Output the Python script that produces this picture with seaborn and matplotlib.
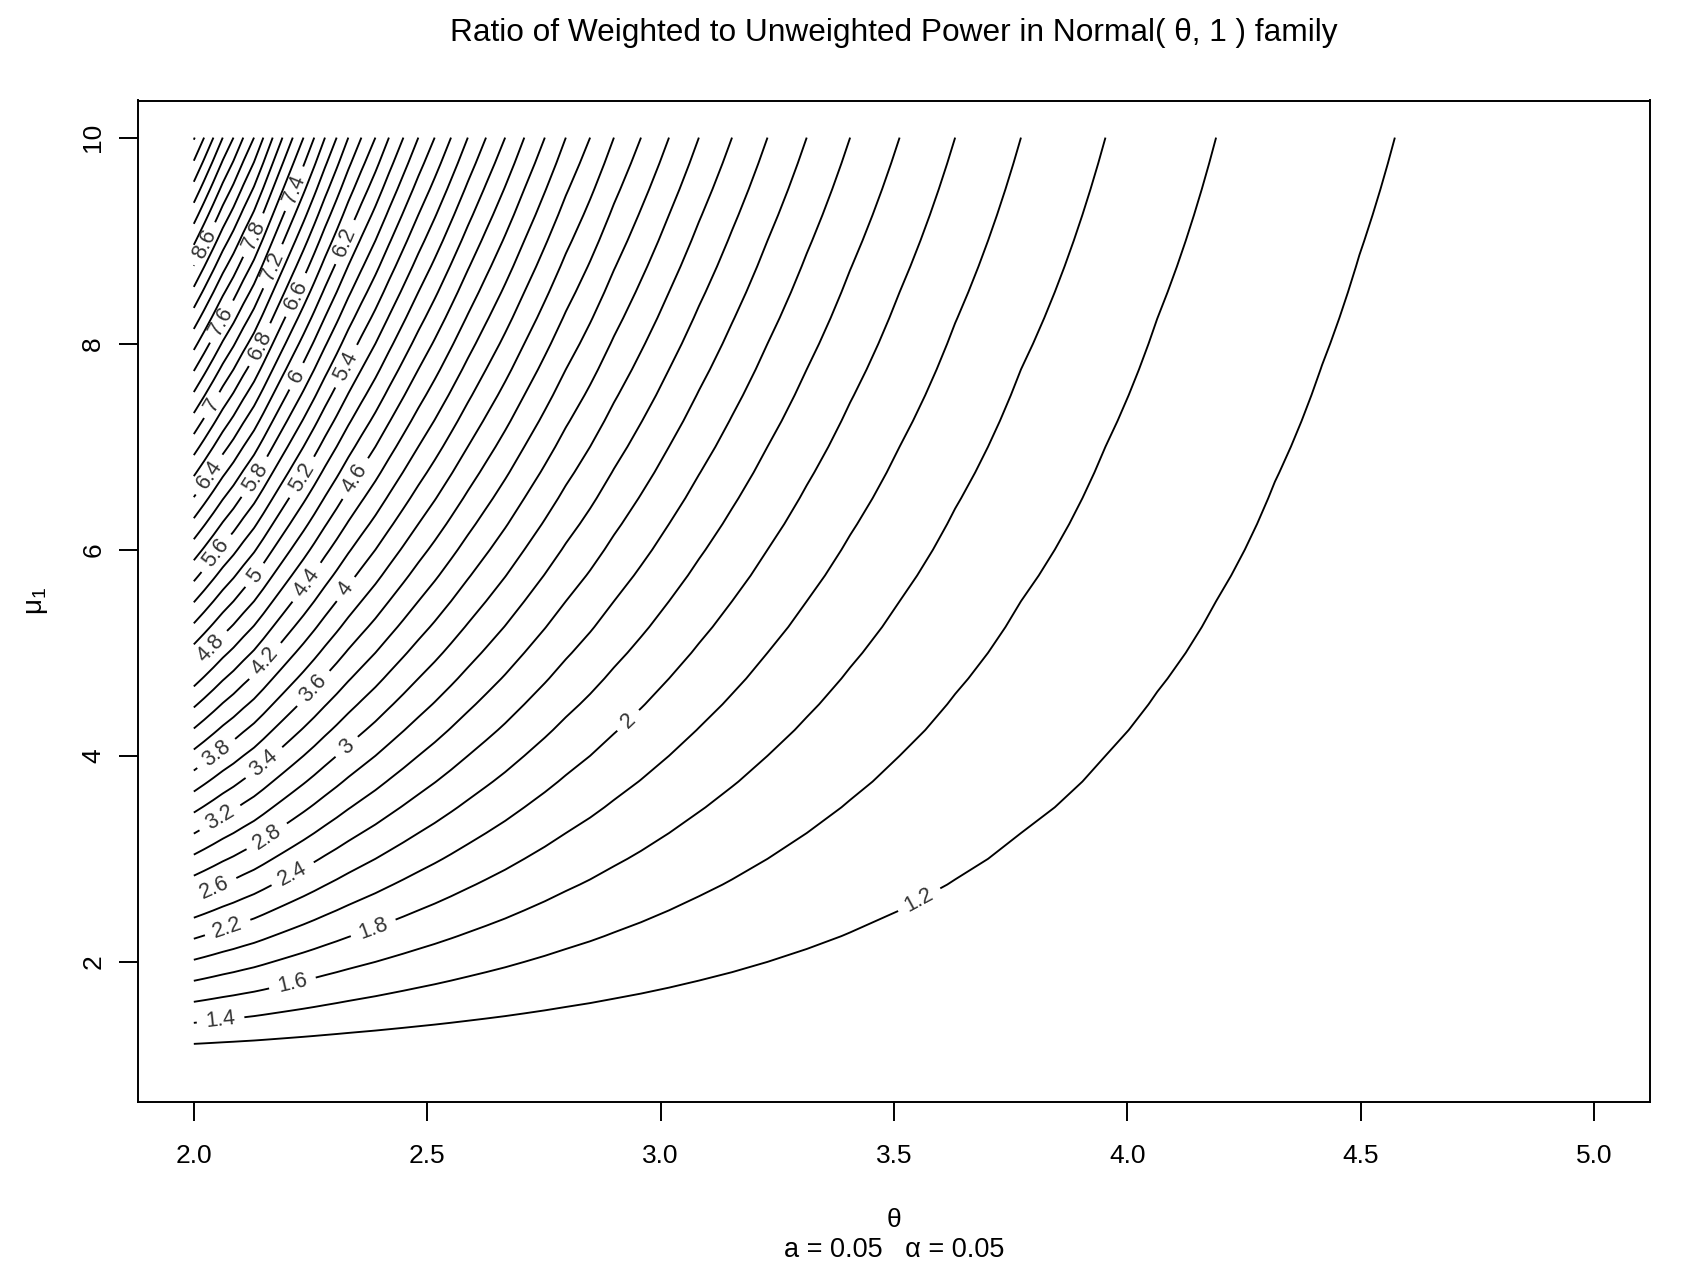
import numpy as np
import matplotlib
matplotlib.use("Agg")
import matplotlib.pyplot as plt
import seaborn as sns

# ---- data ----------------------------------------------------------------
# Ratio of weighted to unweighted power along the top edge (mu1 = 10):
# theta where each contour meets the top edge, plus a few extra readings
theta_top = [2.000, 2.002, 2.022, 2.042, 2.062, 2.085, 2.106, 2.129, 2.149,
             2.169, 2.190, 2.212, 2.235, 2.258, 2.281, 2.306, 2.331, 2.359,
             2.389, 2.418, 2.449, 2.481, 2.516, 2.551, 2.587, 2.626, 2.667,
             2.708, 2.752, 2.797, 2.849, 2.900, 2.958, 3.018, 3.082, 3.153,
             3.229, 3.313, 3.406, 3.512, 3.631, 3.772, 3.953, 4.064, 4.190,
             4.316, 4.417, 4.497, 4.573, 4.719, 4.870, 5.000]
ratio_top = [9.82, 9.8, 9.6, 9.4, 9.2, 9.0, 8.8, 8.6, 8.4,
             8.2, 8.0, 7.8, 7.6, 7.4, 7.2, 7.0, 6.8, 6.6,
             6.4, 6.2, 6.0, 5.8, 5.6, 5.4, 5.2, 5.0, 4.8,
             4.6, 4.4, 4.2, 4.0, 3.8, 3.6, 3.4, 3.2, 3.0,
             2.8, 2.6, 2.4, 2.2, 2.0, 1.8, 1.6, 1.497, 1.4,
             1.318, 1.265, 1.229, 1.2, 1.150, 1.111, 1.082]
# Along mu1 the contours are evenly spaced at any fixed theta: the ratio
# rises linearly in mu1 from 1 (mu1 = 1) to the top-edge value (mu1 = 10).
mu_bottom, mu_top = 1.0, 10.0
ratio_bottom = 1.0

contour_levels = [round(1.2 + 0.2 * i, 1) for i in range(44)]   # 1.2 ... 9.8

# labelled contours and where their labels sit (theta, mu1)
label_levels = [8.6, 7.8, 7.4, 7.2, 6.6, 6.2, 7.6, 6.8, 6.0, 5.4, 7.0,
                6.4, 5.8, 5.2, 4.6, 5.6, 5.0, 4.4, 4.0, 4.8, 4.2, 3.6,
                3.8, 3.4, 3.0, 3.2, 2.8, 2.6, 2.4, 2.2, 1.8, 1.6, 1.4,
                2.0, 1.2]
label_pos = [(2.032, 8.95), (2.129, 9.05), (2.217, 9.50), (2.175, 8.74),
             (2.229, 8.45), (2.332, 8.97), (2.057, 8.22), (2.132, 8.01),
             (2.217, 7.69), (2.318, 7.80), (2.036, 7.41), (2.039, 6.71),
             (2.129, 6.71), (2.229, 6.71), (2.353, 6.67), (2.050, 5.96),
             (2.125, 5.77), (2.240, 5.69), (2.325, 5.62), (2.039, 5.03),
             (2.150, 4.93), (2.257, 4.65), (2.043, 4.05), (2.139, 3.99),
             (2.325, 4.10), (2.050, 3.44), (2.150, 3.26), (2.043, 2.73),
             (2.210, 2.87), (2.072, 2.34), (2.382, 2.36), (2.210, 1.82),
             (2.057, 1.45), (2.927, 4.36), (3.552, 2.62)]

x_ticks = [2.0, 2.5, 3.0, 3.5, 4.0, 4.5, 5.0]
y_ticks = [2, 4, 6, 8, 10]

# ---- grid table for the contour routine ----------------------------------
theta = np.array(theta_top)
mu = np.linspace(mu_bottom, mu_top, 37)
frac = (mu - mu_bottom) / (mu_top - mu_bottom)
Z = ratio_bottom + np.outer(frac, np.array(ratio_top) - ratio_bottom)

# ---- style -----------------------------------------------------------------
sns.set_theme(style="ticks")
plt.rcParams['font.family'] = ['Liberation Sans', 'DejaVu Sans']
plt.rcParams['mathtext.fontset'] = 'custom'
plt.rcParams['mathtext.rm'] = 'Liberation Sans'

W, H = 1686, 1286
fig = plt.figure(figsize=(W / 100, H / 100), dpi=100)
left, right, top, bottom = 137.8, 1650.2, 100.5, 1102.0
ax = fig.add_axes([left / W, 1 - bottom / H, (right - left) / W, (bottom - top) / H])
ax.set_xlim(1.88, 5.12)
ax.set_ylim(0.64, 10.36)

LW = 1.35
plain_levels = [v for v in contour_levels if v not in label_levels]
ax.contour(theta, mu, Z, levels=plain_levels, colors='black', linewidths=LW)

fmt = lambda v: f"{v:g}"
for lev, pos in zip(label_levels, label_pos):
    cs = ax.contour(theta, mu, Z, levels=[lev], colors='black', linewidths=LW)
    cs.clabel(manual=[pos], inline=True, inline_spacing=9,
              fmt=fmt, fontsize=15.5, colors='#333333')

for s in ax.spines.values():
    s.set_color('black')
    s.set_linewidth(1.4)
    s.set_visible(True)

ax.set_xticks(x_ticks)
ax.set_xticklabels([f"{v:.1f}" for v in x_ticks])
ax.set_yticks(y_ticks)
ax.set_yticklabels([str(v) for v in y_ticks], rotation=90, va='center')
ax.tick_params(axis='both', which='major', direction='out', length=13.5,
               width=1.4, color='black', labelsize=19, labelcolor='black',
               bottom=True, left=True, top=False, right=False)
ax.tick_params(axis='x', pad=17)
ax.tick_params(axis='y', pad=10)
ax.set_xlabel('')
ax.set_ylabel('')
ax.grid(False)

cx = (left + right) / 2 / W
fig.text(cx, 1 - 33 / H, 'Ratio of Weighted to Unweighted Power in Normal( θ, 1 ) family',
         ha='center', va='center', fontsize=22.8, color='black')
fig.text(cx, 1 - 1220 / H, 'θ', ha='center', va='center', fontsize=19, color='black')
fig.text(cx, 1 - 1250 / H, 'a = 0.05   α = 0.05', ha='center', va='center',
         fontsize=19.5, color='black')
fig.text(37 / W, 1 - 601 / H, 'μ$_1$', ha='center', va='center', rotation=90,
         fontsize=20, color='black')

fig.savefig('out.png', dpi=100, facecolor='white')
